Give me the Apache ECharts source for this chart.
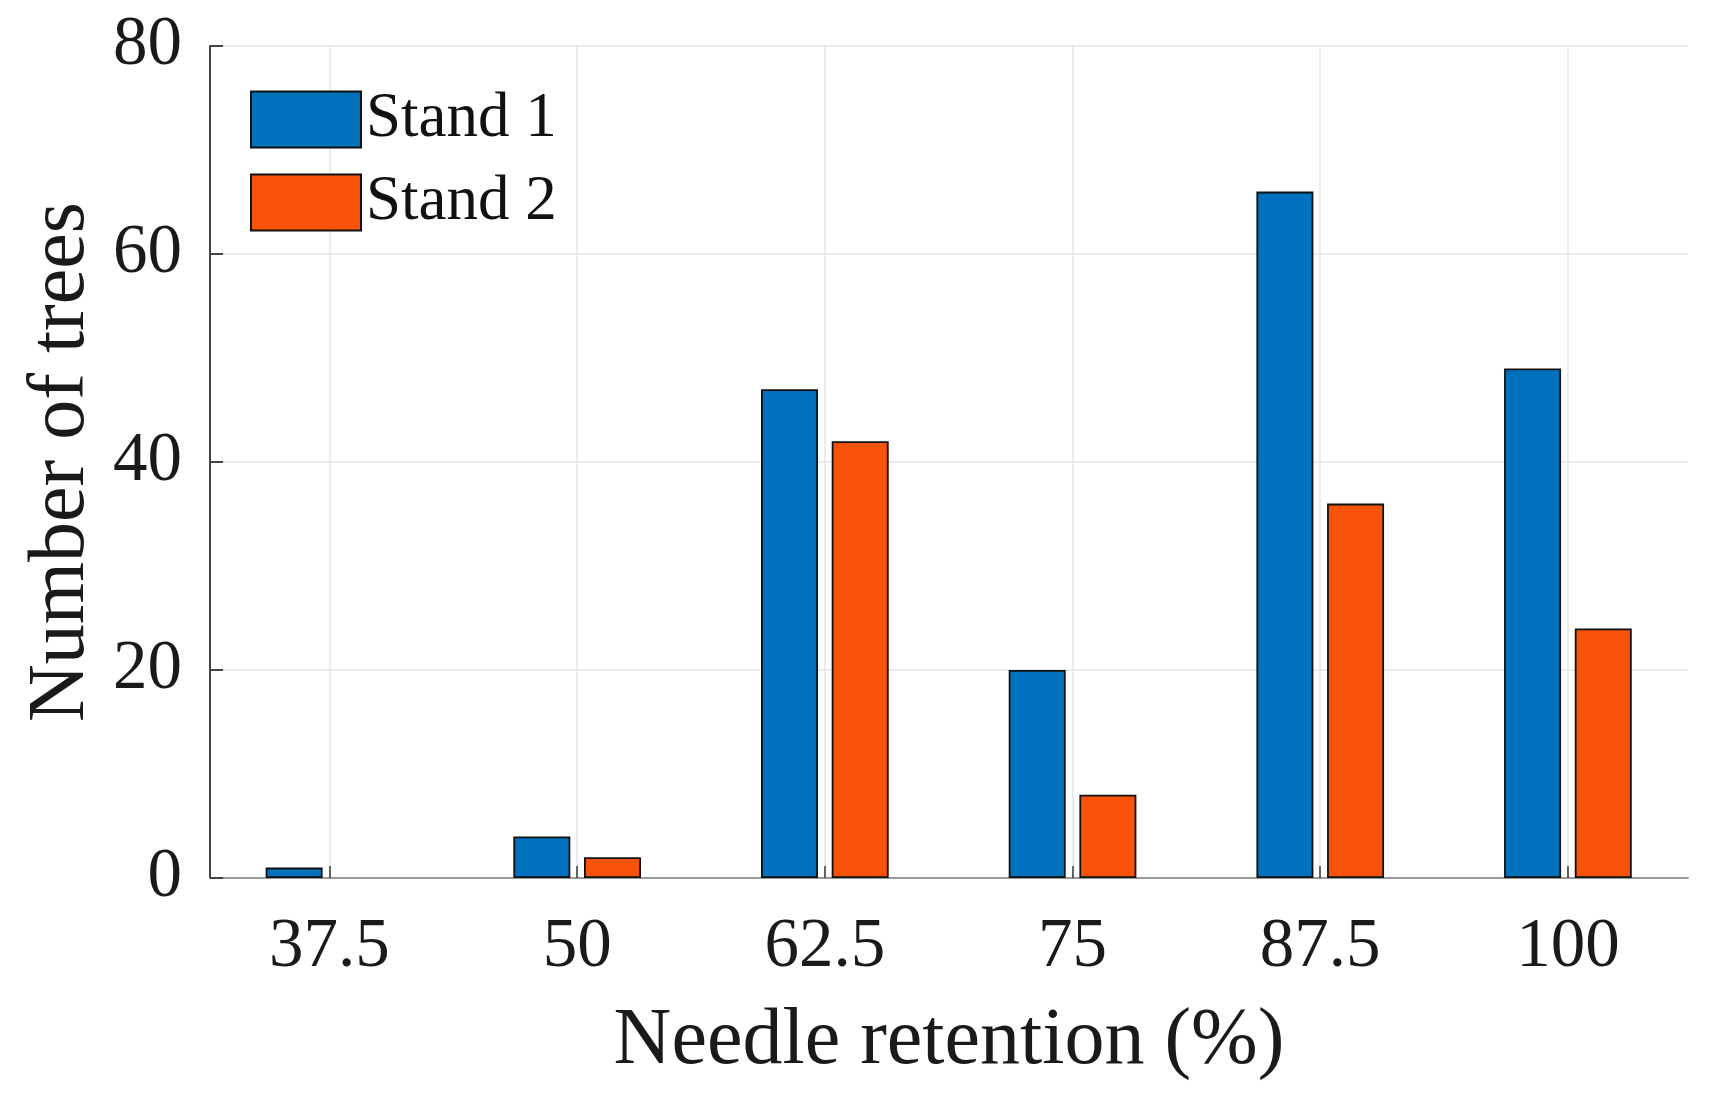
<!DOCTYPE html>
<html>
<head>
<meta charset="utf-8">
<script src="https://cdn.jsdelivr.net/npm/echarts@6/dist/echarts.min.js"></script>
<style>
html,body{margin:0;padding:0;background:#fff;}
#chart{width:1715px;height:1093px;}
</style>
</head>
<body>
<div id="chart"></div>
<script>
var categories = [37.5, 50, 62.5, 75, 87.5, 100];
var stand1 = [1, 4, 47, 20, 66, 49];
var stand2 = [0, 2, 42, 8, 36, 24];
var yTicks = [0, 20, 40, 60, 80];

var chart = echarts.init(document.getElementById('chart'));
var font = 'Liberation Serif';
function pairs(vals){
  return categories.map(function(c,i){
    var d = { value: [c, vals[i]] };
    if (vals[i] === 0) d.itemStyle = { borderWidth: 0 };
    return d;
  });
}

chart.setOption({
  animation: false,
  backgroundColor: '#ffffff',
  grid: { left: 210, right: 27, top: 46, bottom: 215, containLabel: false },
  legend: {
    left: 245, top: 83, orient: 'vertical',
    itemWidth: 110, itemHeight: 56, itemGap: 20,
    icon: 'rect',
    textStyle: { fontFamily: font, fontSize: 63, color: '#111', padding: [0,0,0,0] },
    data: ['Stand 1', 'Stand 2']
  },
  xAxis: {
    type: 'value', min: 31.47, max: 106.06,
    name: 'Needle retention (%)', nameLocation: 'middle', nameGap: 124,
    nameTextStyle: { fontFamily: font, fontSize: 80, color: '#1a1a1a' },
    axisLine: { show: true, lineStyle: { color: '#9a9a9a', width: 2 } },
    axisTick: { show: true, inside: true, length: 12, customValues: categories, lineStyle: { color: '#333', width: 1.5 } },
    axisLabel: { customValues: categories, margin: 35, fontFamily: font, fontSize: 69, color: '#1a1a1a',
      formatter: function(v){ return String(v); } },
    splitLine: { show: true, lineStyle: { color: '#e6e6e6', width: 1.5 } }
  },
  yAxis: {
    type: 'value', min: 0, max: 80, interval: 20,
    name: 'Number of trees', nameLocation: 'middle', nameGap: 95,
    nameTextStyle: { fontFamily: font, fontSize: 80, color: '#1a1a1a' },
    axisLine: { show: true, lineStyle: { color: '#444', width: 2 } },
    axisTick: { show: true, inside: true, length: 13, lineStyle: { color: '#444', width: 2 } },
    axisLabel: { margin: 28, fontFamily: font, fontSize: 69, color: '#1a1a1a' },
    splitLine: { show: true, lineStyle: { color: '#e6e6e6', width: 1.5 } }
  },
  series: [
    { name: 'Stand 1', type: 'bar', data: pairs(stand1), barWidth: 57, barGap: '24%',
      itemStyle: { color: '#0072BD', borderColor: '#111', borderWidth: 1.8 } },
    { name: 'Stand 2', type: 'bar', data: pairs(stand2), barWidth: 57, barGap: '24%',
      itemStyle: { color: '#F9520A', borderColor: '#111', borderWidth: 1.8 } }
  ]
});
</script>
</body>
</html>
